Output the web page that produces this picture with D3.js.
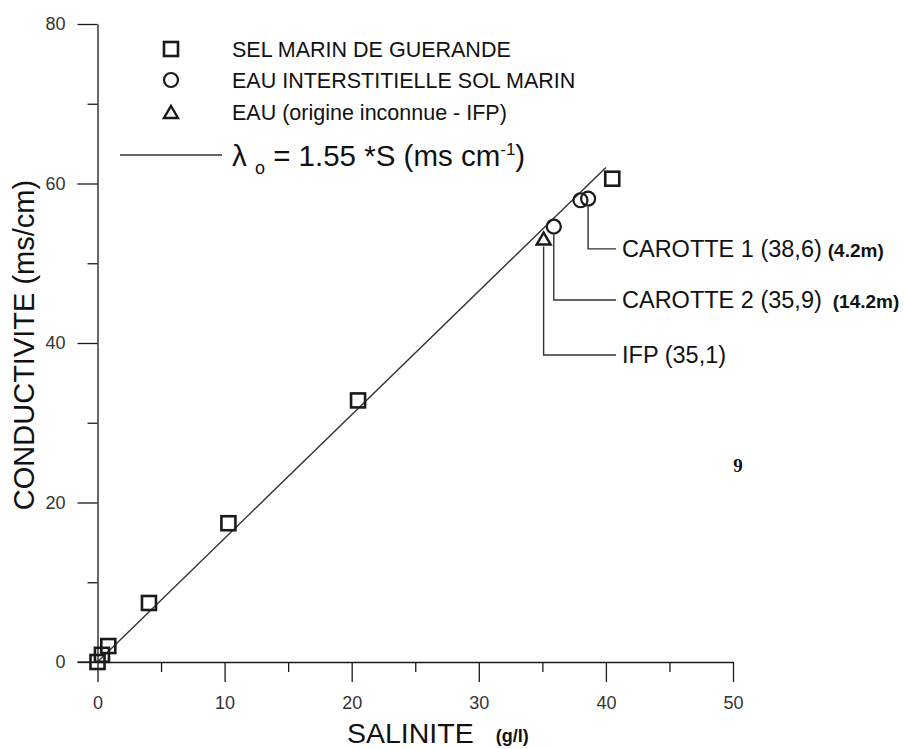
<!DOCTYPE html>
<html>
<head>
<meta charset="utf-8">
<script src="https://cdn.jsdelivr.net/npm/d3@7"></script>
<style>
  html, body { margin: 0; padding: 0; background: #fff; }
  svg { display: block; font-family: "Liberation Sans", Arial, sans-serif; }
  .tick text { font-family: "Liberation Sans Narrow", "Liberation Sans", Arial, sans-serif; }
</style>
</head>
<body>
<div id="chart"></div>
<script>
// salinity (g/l) and conductivity (ms/cm)
const guerandeS = [0, 0.35, 0.85, 4.05, 10.3, 20.5, 40.5];
const guerandeC = [0, 0.9, 2.0, 7.4, 17.4, 32.8, 60.6];

const solMarinS = [35.9, 38.0, 38.6];
const solMarinC = [54.6, 57.9, 58.1];

const ifpS = [35.1];
const ifpC = [53.1];

// fitted line lambda_o = 1.55 * S
const SLOPE = 1.55;
const lineS = [0, 40];

const legendLabels = [
  'SEL MARIN DE GUERANDE',
  'EAU INTERSTITIELLE SOL MARIN',
  'EAU (origine inconnue - IFP)'
];

// callouts: anchor point, label height (in ms/cm), text
const calloutS = [38.6, 35.9, 35.1];
const calloutC = [58.1, 54.6, 53.1];
const calloutLabelC = [51.8, 45.4, 38.5];
const calloutText = ['CAROTTE 1 (38,6)', 'CAROTTE 2 (35,9)', 'IFP (35,1)'];
const calloutDepth = ['(4.2m)', '(14.2m)', ''];

const xTicks = [0, 10, 20, 30, 40, 50];
const xMinor = [5, 15, 25, 35, 45];
const yTicks = [0, 20, 40, 60, 80];
const yMinor = [10, 30, 50, 70];

const W = 905, H = 749;
const margin = { top: 24, right: 172, bottom: 87, left: 97.5 };

const svg = d3.select('#chart').append('svg').attr('width', W).attr('height', H);
svg.append('rect').attr('width', W).attr('height', H).attr('fill', '#fff');

const x = d3.scaleLinear().domain([0, 50]).range([margin.left, W - margin.right]);
const y = d3.scaleLinear().domain([0, 80]).range([H - margin.bottom, margin.top]);

const ink = '#1a1a1a';

// axes
svg.append('g').attr('transform', `translate(0,${y(0)})`)
  .call(d3.axisBottom(x).tickValues(xTicks).tickSize(20).tickSizeOuter(0).tickPadding(14));
svg.append('g').attr('transform', `translate(0,${y(0)})`)
  .call(d3.axisBottom(x).tickValues(xMinor).tickSize(10).tickFormat('').tickSizeOuter(0))
  .select('.domain').remove();

svg.append('g').attr('transform', `translate(${x(0)},0)`)
  .call(d3.axisLeft(y).tickValues(yTicks).tickSize(20).tickSizeOuter(0).tickPadding(12));
svg.append('g').attr('transform', `translate(${x(0)},0)`)
  .call(d3.axisLeft(y).tickValues(yMinor).tickSize(10).tickFormat('').tickSizeOuter(0))
  .select('.domain').remove();

// extend the x baseline to the left like the original (meets the 0 tick)
svg.append('line')
  .attr('x1', x(0) - 20).attr('x2', x(0))
  .attr('y1', y(0)).attr('y2', y(0))
  .attr('stroke', ink).attr('stroke-width', 1.3);

svg.selectAll('.domain, .tick line').attr('stroke', ink).attr('stroke-width', 1.3);
svg.selectAll('.tick text').attr('font-size', 18).attr('fill', '#333');

// axis titles
svg.append('text')
  .attr('transform', `translate(34,${(y(0) + y(80)) / 2 + 2}) rotate(-90)`)
  .attr('text-anchor', 'middle')
  .attr('font-size', 29).attr('fill', '#111')
  .text('CONDUCTIVITE (ms/cm)');

const xt = svg.append('text')
  .attr('x', 347).attr('y', 743)
  .attr('font-size', 28.5).attr('fill', '#111');
xt.append('tspan').text('SALINITE');
xt.append('tspan').attr('dx', 22).attr('font-size', 18).attr('font-weight', 'bold').attr('dy', -1).text('(g/l)');

// fitted line
const line = d3.line().x(d => x(d)).y(d => y(SLOPE * d));
svg.append('path')
  .attr('d', line(lineS))
  .attr('fill', 'none').attr('stroke', '#333').attr('stroke-width', 1.4);

// marker drawing helpers
function square(g, cx, cy) {
  g.append('rect').attr('x', cx - 7).attr('y', cy - 7).attr('width', 14).attr('height', 14)
    .attr('fill', 'none').attr('stroke', ink).attr('stroke-width', 2.6);
}
function circle(g, cx, cy) {
  g.append('circle').attr('cx', cx).attr('cy', cy).attr('r', 7)
    .attr('fill', 'none').attr('stroke', ink).attr('stroke-width', 2.2);
}
function triangle(g, cx, cy) {
  g.append('path')
    .attr('d', `M${cx},${cy - 6}L${cx + 7},${cy + 6}L${cx - 7},${cy + 6}Z`)
    .attr('fill', 'none').attr('stroke', ink).attr('stroke-width', 2.4).attr('stroke-linejoin', 'miter');
}

const marks = svg.append('g');
guerandeS.forEach((s, i) => square(marks, x(s), y(guerandeC[i])));
solMarinS.forEach((s, i) => circle(marks, x(s), y(solMarinC[i])));
ifpS.forEach((s, i) => triangle(marks, x(s), y(ifpC[i])));

// callouts
const calloutEnd = 616;
calloutS.forEach((s, i) => {
  const px = x(s);
  const py0 = y(calloutC[i]) + 8;
  const py1 = y(calloutLabelC[i]);
  svg.append('path')
    .attr('d', `M${px},${py0}V${py1}H${calloutEnd}`)
    .attr('fill', 'none').attr('stroke', '#333').attr('stroke-width', 1.4);
  const t = svg.append('text')
    .attr('x', calloutEnd + 6).attr('y', py1 + 8)
    .attr('font-size', 23.5).attr('fill', '#111');
  t.append('tspan').text(calloutText[i]);
  if (calloutDepth[i]) {
    t.append('tspan').attr('dx', i === 0 ? 6 : 11)
      .attr('font-size', 19).attr('font-weight', 'bold').text(calloutDepth[i]);
  }
});

// legend
const legend = svg.append('g');
const legendY = [49, 80, 112];
const drawers = [square, circle, triangle];
legendLabels.forEach((lab, i) => {
  drawers[i](legend, 171, legendY[i]);
  legend.append('text')
    .attr('x', 232).attr('y', legendY[i] + 7.5)
    .attr('font-size', 21.5).attr('fill', '#111')
    .text(lab);
});
legend.append('line')
  .attr('x1', 120).attr('x2', 222).attr('y1', 155).attr('y2', 155)
  .attr('stroke', '#333').attr('stroke-width', 1.4);
const lam = legend.append('text')
  .attr('x', 232).attr('y', 166)
  .attr('font-size', 29.5).attr('fill', '#111');
lam.append('tspan').text('\u03bb ');
lam.append('tspan').attr('font-size', 18).attr('dy', 8).text('o');
lam.append('tspan').attr('dy', -8).text(' = 1.55 *S (ms cm');
lam.append('tspan').attr('font-size', 17).attr('dy', -11).text('-1');
lam.append('tspan').attr('dy', 11).text(')');

// stray page number from the scan
svg.append('text')
  .attr('x', 738).attr('y', 472)
  .attr('text-anchor', 'middle')
  .attr('font-family', '"Liberation Serif", "Times New Roman", serif')
  .attr('font-weight', 'bold').attr('font-size', 19).attr('fill', '#111')
  .text('9');
</script>
</body>
</html>
